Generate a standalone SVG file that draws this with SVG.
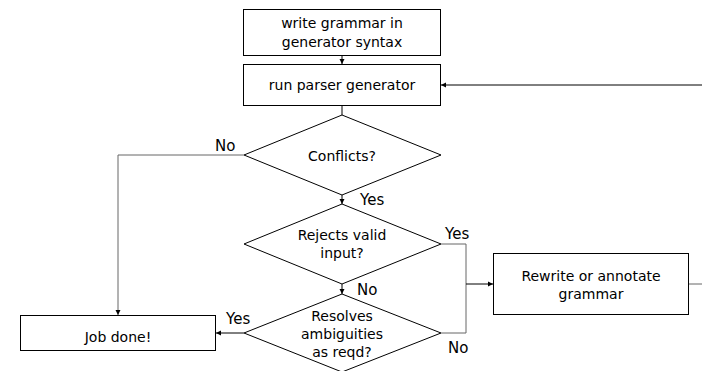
<svg xmlns="http://www.w3.org/2000/svg" width="702" height="371" viewBox="0 0 702 371">
<defs>
<marker id="ah" markerWidth="6" markerHeight="6" refX="5" refY="3" orient="auto" markerUnits="userSpaceOnUse"><path d="M0,0.5 L5,3 L0,5.5 Z" fill="#000"/></marker>
<style>
.n{fill:#fff;stroke:#000;stroke-width:1}
.t{font-family:"DejaVu Sans",Verdana,sans-serif;font-size:14px;fill:#000;text-anchor:middle}
.l{font-family:"DejaVu Sans",Verdana,sans-serif;font-size:15px;fill:#000}
.c{fill:none;stroke:#000;stroke-width:1}
.g{fill:none;stroke:#666;stroke-width:1}
</style>
</defs>
<rect width="702" height="371" fill="#fff"/>
<g id="connectors">
<path class="c" d="M342,56 V64" marker-end="url(#ah)"/>
<path class="g" d="M689,284 H702"/>
<path class="c" d="M702,85 H441" marker-end="url(#ah)"/>
<path class="c" d="M342,105 V115"/>
<path class="g" d="M244,155 H118 V315" marker-end="url(#ah)"/>
<path class="c" d="M342,195 V204" marker-end="url(#ah)"/>
<path class="c" d="M342,284 V294" marker-end="url(#ah)"/>
<path class="g" d="M441,244 H466 V333 H441"/>
<path class="c" d="M466,284 H493" marker-end="url(#ah)"/>
<path class="c" d="M244,333 H216" marker-end="url(#ah)"/>
</g>
<g id="write">
<rect class="n" x="243.5" y="9.5" width="197" height="46"/>
<text class="t" x="342" y="28">write grammar in</text>
<text class="t" x="342" y="47">generator syntax</text>
</g>
<g id="run">
<rect class="n" x="243.5" y="64.5" width="197" height="41"/>
<text class="t" x="342" y="90">run parser generator</text>
</g>
<g id="conflicts">
<polygon class="n" points="244,155 342,115 441,155 342,195"/>
<text class="t" x="342" y="161">Conflicts?</text>
</g>
<g id="rejects">
<polygon class="n" points="244,244 342,204 441,244 342,284"/>
<text class="t" x="342" y="240">Rejects valid</text>
<text class="t" x="342" y="258">input?</text>
</g>
<g id="resolves">
<polygon class="n" points="244,333 342,294 441,333 342,372"/>
<text class="t" x="342" y="321">Resolves</text>
<text class="t" x="342" y="339">ambiguities</text>
<text class="t" x="342" y="357">as reqd?</text>
</g>
<g id="rewrite">
<rect class="n" x="493.5" y="253.5" width="195" height="61"/>
<text class="t" x="591" y="281">Rewrite or annotate</text>
<text class="t" x="591" y="299">grammar</text>
</g>
<g id="done">
<rect class="n" x="20.5" y="315.5" width="195" height="35"/>
<text class="t" x="118" y="342">Job done!</text>
</g>
<g id="labels">
<text class="l" x="215" y="151">No</text>
<text class="l" x="360" y="205">Yes</text>
<text class="l" x="445" y="239">Yes</text>
<text class="l" x="357" y="295">No</text>
<text class="l" x="226" y="324">Yes</text>
<text class="l" x="448" y="353">No</text>
</g>
</svg>
